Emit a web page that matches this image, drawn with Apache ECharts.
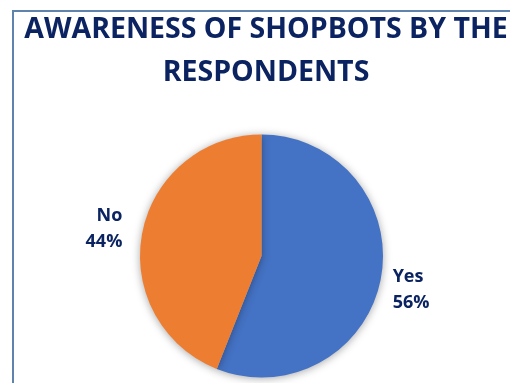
<!DOCTYPE html>
<html>
<head>
<meta charset="utf-8">
<script src="https://cdn.jsdelivr.net/npm/echarts@6/dist/echarts.min.js"></script>
<style>
  html, body { margin: 0; padding: 0; background: #ffffff; }
  #chart { width: 510px; height: 383px; }
</style>
</head>
<body>
<div id="chart"></div>
<script>
// Survey answers and their shares (percent)
const categories = ['Yes', 'No'];
const shares = [56, 44];
const sliceColors = ['#4472C4', '#ED7D31'];

const chart = echarts.init(document.getElementById('chart'), null, { renderer: 'canvas' });

const navy = '#0B2461';

chart.setOption({
  animation: false,
  backgroundColor: '#ffffff',
  title: {
    text: 'AWARENESS OF SHOPBOTS BY THE\nRESPONDENTS',
    left: 261,
    top: 3,
    textAlign: 'center',
    textStyle: {
      fontFamily: 'Open Sans',
      fontWeight: 'bold',
      fontSize: 28.5,
      lineHeight: 43,
      color: navy
    }
  },
  graphic: [{
    type: 'rect',
    shape: { x: 13, y: 11, width: 600, height: 500 },
    style: { fill: 'none', stroke: '#5F83AD', lineWidth: 2 },
    silent: true
  }],
  series: [{
    type: 'pie',
    center: [261.5, 256],
    radius: 121.5,
    startAngle: 90,
    clockwise: true,
    data: categories.map((c, i) => ({
      name: c,
      value: shares[i],
      itemStyle: { color: sliceColors[i] }
    })),
    itemStyle: {
      shadowBlur: 8,
      shadowColor: 'rgba(0,0,0,0.35)',
      shadowOffsetX: 0,
      shadowOffsetY: 1
    },
    label: {
      show: true,
      position: 'outside',
      formatter: '{b}\n{d}%',
      fontFamily: 'Open Sans',
      fontWeight: 'bold',
      fontSize: 18,
      lineHeight: 26,
      color: navy,
      align: 'center'
    },
    labelLine: { show: false, length: 12, length2: 0 },
    labelLayout: function (p) {
      return p.dataIndex === 0 ? { dx: -5, dy: 9 } : { dx: -3, dy: -2 };
    }
  }]
});
</script>
</body>
</html>
